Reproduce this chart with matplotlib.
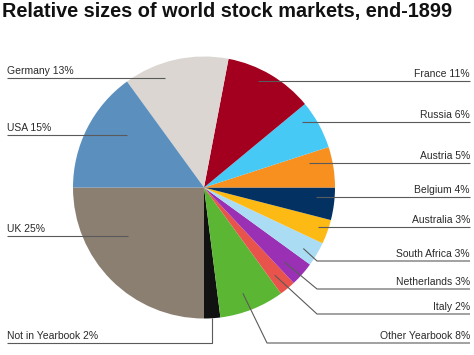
import numpy as np
import matplotlib
matplotlib.use("Agg")
import matplotlib.pyplot as plt

# ---- data ----
labels = ["UK", "Not in Yearbook", "Other Yearbook", "Italy", "Netherlands",
          "South Africa", "Australia", "Belgium", "Austria", "Russia",
          "France", "Germany", "USA"]
shares = [25, 2, 8, 2, 3, 3, 3, 4, 5, 6, 11, 13, 15]
colors = ["#8b7f72", "#111111", "#5bb733", "#e8534b", "#9a30b3",
          "#aadcf4", "#fdb914", "#033262", "#f8901f", "#47c9f6",
          "#a3001f", "#dbd6d1", "#5b8fbd"]
title = "Relative sizes of world stock markets, end-1899"

# ---- layout (pixel space, y from top) ----
W, H = 474, 355
cx, cy, R = 204, 187.5, 131
# anchor position inside each wedge: fraction along the wedge angle, fraction of radius
anchor_t = [0.36, 0.49, 0.45, 0.40, 0.37, 0.41, 0.57, 0.68, 0.72, 0.72, 0.59, 0.65, 0.36]
anchor_r = [0.69, 1.00, 0.86, 0.86, 0.84, 0.89, 0.92, 0.86, 0.82, 0.90, 0.91, 0.885, 0.71]
side = ["L", "L", "R", "R", "R", "R", "R", "R", "R", "R", "R", "L", "L"]
# y of the underline for labels that need an elbow (None = straight horizontal)
line_y = [None, 343, 343, 314, 289, 261, None, None, None, None, None, None, None]
elbow_x = [None, "anchor", 267, 317, 317, 317, None, None, None, None, None, None, None]
x_left, x_right = 7, 470

fig = plt.figure(figsize=(W / 100, H / 100), dpi=100)
ax = fig.add_axes([0, 0, 1, 1])
ax.set_xlim(0, W)
ax.set_ylim(0, H)
ax.axis("off")

def Y(y):  # pixel-from-top to data
    return H - y

wedges, _ = ax.pie(shares, colors=colors, startangle=180, counterclock=True,
                   center=(cx, Y(cy)), radius=R, frame=True,
                   wedgeprops=dict(linewidth=0))
ax.set_xlim(0, W)
ax.set_ylim(0, H)
ax.axis("off")

fs = 7.5
font = "Liberation Sans"
lc = "#5a5a5a"
for i, w in enumerate(wedges):
    th = np.radians(w.theta1 + anchor_t[i] * (w.theta2 - w.theta1))
    ax_ = cx + anchor_r[i] * R * np.cos(th)
    ay_ = cy - anchor_r[i] * R * np.sin(th)
    txt = f"{labels[i]} {shares[i]}%"
    if line_y[i] is None:
        ly = ay_
        pts = [(ax_, ly)]
    else:
        ly = line_y[i]
        ex = ax_ if elbow_x[i] == "anchor" else elbow_x[i]
        pts = [(ax_, ay_), (ex, ly)]
    end = x_left if side[i] == "L" else x_right
    pts.append((end, ly))
    xs = [p[0] for p in pts]
    ys = [Y(p[1]) for p in pts]
    ax.plot(xs, ys, color=lc, lw=0.8, solid_capstyle="butt")
    if side[i] == "L":
        ax.text(x_left, Y(ly - 4), txt, ha="left", va="baseline",
                fontsize=fs, family=font, color="#2a2a2a")
    else:
        ax.text(x_right, Y(ly - 4), txt, ha="right", va="baseline",
                fontsize=fs, family=font, color="#2a2a2a")

ax.text(2, Y(17.3), title, ha="left", va="baseline", fontsize=14.3,
        fontweight="bold", family=font, color="#111111")

fig.savefig("out.png", dpi=100)
